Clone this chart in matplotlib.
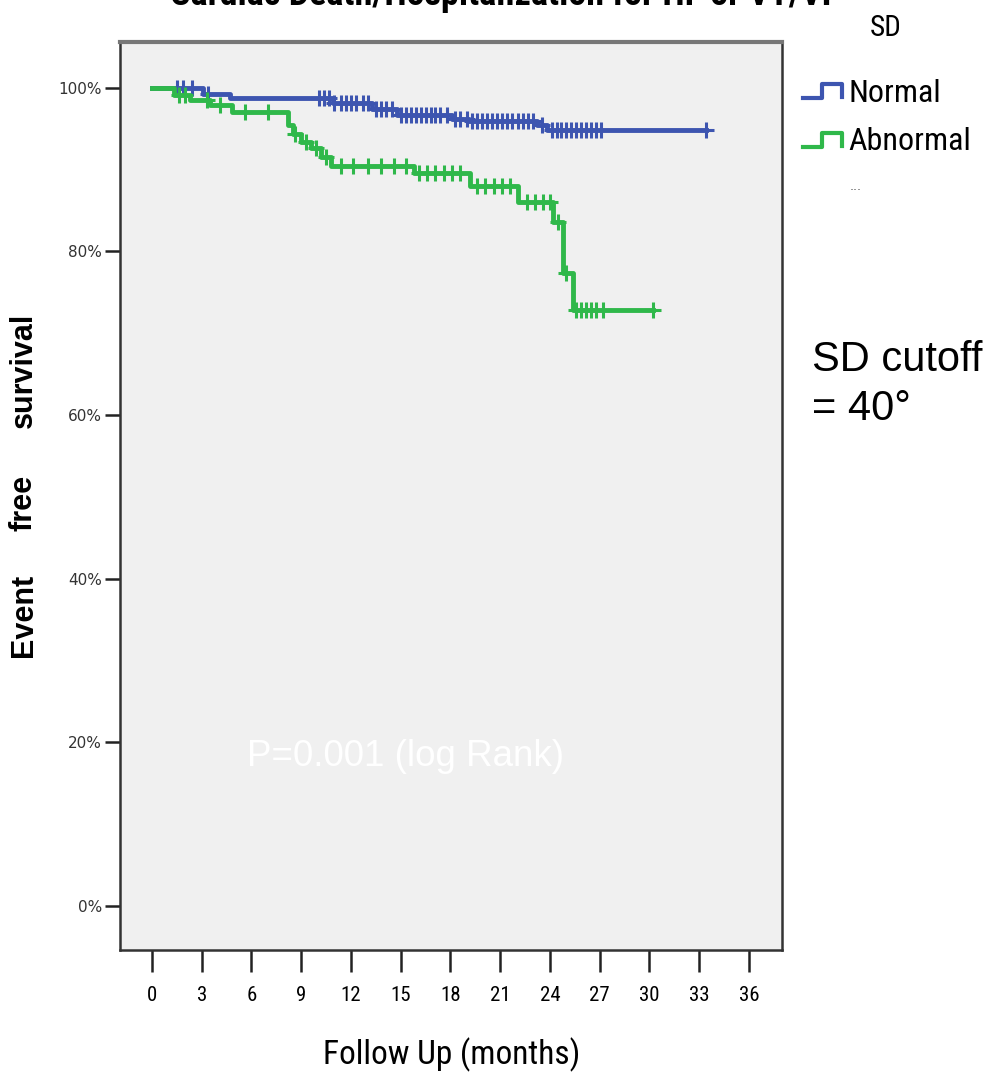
import numpy as np
import matplotlib
matplotlib.use("Agg")
import matplotlib.pyplot as plt
from matplotlib.lines import Line2D

# Kaplan-Meier steps (months, % event free)
normal_times = [0, 3.1, 4.7, 10.9, 13.3, 14.8, 18.1, 19.1, 23.2, 23.8, 33.4]
normal_surv = [100, 99.3, 98.8, 98.2, 97.4, 96.7, 96.2, 95.9, 95.5, 94.9, 94.9]
normal_censor = [1.5, 1.9, 2.4, 3.4, 10.1, 10.4, 10.7, 11.0, 11.4, 11.7, 12.0,
                 12.3, 12.7, 13.0, 13.5, 13.8, 14.1, 14.5, 15.0, 15.3, 15.6,
                 15.9, 16.2, 16.5, 16.8, 17.1, 17.4, 17.8, 18.3, 18.6, 19.0,
                 19.3, 19.6, 19.9, 20.2, 20.5, 20.8, 21.1, 21.4, 21.7, 22.1,
                 22.4, 22.7, 23.0, 23.5, 24.1, 24.4, 24.7, 25.0, 25.3, 25.6,
                 25.9, 26.2, 26.5, 26.8, 27.1, 33.4]

abnormal_times = [0, 1.3, 2.3, 3.5, 4.8, 8.2, 8.5, 9.0, 9.6, 10.2, 10.8,
                  15.8, 19.2, 22.1, 24.2, 24.8, 25.4, 30.2]
abnormal_surv = [100, 99.1, 98.5, 97.9, 97.1, 95.5, 94.3, 93.4, 92.6, 91.6,
                 90.4, 89.6, 88.0, 86.1, 83.6, 77.3, 72.8, 72.8]
abnormal_censor = [1.6, 2.0, 3.3, 4.1, 5.6, 7.0, 8.6, 9.3, 9.9, 10.5, 11.4,
                   12.1, 13.0, 13.8, 14.6, 15.3, 16.1, 16.6, 17.1, 17.6, 18.1,
                   18.6, 19.6, 20.1, 20.6, 21.1, 21.6, 22.6, 23.1, 23.6, 24.0,
                   24.5, 25.0, 25.6, 25.9, 26.2, 26.5, 26.8, 27.2, 30.2]

x_ticks = [0, 3, 6, 9, 12, 15, 18, 21, 24, 27, 30, 33, 36]
y_ticks = [0, 20, 40, 60, 80, 100]

blue = '#3d55b0'
green = '#2fb84a'
narrow = ['Liberation Sans Narrow', 'DejaVu Sans Condensed', 'Roboto Condensed',
          'Open Sans Condensed', 'Liberation Sans']
arial = ['Liberation Sans', 'DejaVu Sans']

W, H = 988, 1078
fig = plt.figure(figsize=(W / 100, H / 100), dpi=100)
ax = fig.add_axes([120 / W, 1 - 950 / H, 662 / W, 908 / H])
ax.set_facecolor('#f0f0f0')


def surv_at(times, surv, t):
    idx = np.searchsorted(times, t, side='right') - 1
    return np.asarray(surv)[idx]


for times, surv, cens, col in [(normal_times, normal_surv, normal_censor, blue),
                               (abnormal_times, abnormal_surv, abnormal_censor, green)]:
    ax.step(times, surv, where='post', color=col, lw=3.5, zorder=3)
    ax.plot(cens, surv_at(times, surv, cens), '+', color=col, ms=12, mew=2.2,
            zorder=3)

ax.set_xlim(-1.93, 38.0)
ax.set_ylim(-5.4, 105.6)
ax.set_xticks(x_ticks)
ax.set_xticklabels([str(v) for v in x_ticks], family=narrow, fontsize=15)
ax.set_yticks(y_ticks)
ax.set_yticklabels(['%d%%' % v for v in y_ticks], family=['DejaVu Sans'],
                   fontsize=11, color='#333333')
ax.tick_params(axis='x', length=16, width=1.8, pad=10, color='#222222')
ax.tick_params(axis='y', length=11, width=1.8, pad=2, color='#222222')
for s in ['left', 'bottom', 'right']:
    ax.spines[s].set_color('#333333')
    ax.spines[s].set_linewidth(1.8)
ax.spines['top'].set_color('#777777')
ax.spines['top'].set_linewidth(3)

ax.text((405 - 120) / 662, (950 - 757) / 908, 'P=0.001 (log Rank)',
        transform=ax.transAxes, ha='center', va='center', color='white',
        fontsize=26.5, family=arial)

# axis labels
fig.text(452 / W, 1 - 1055 / H, 'Follow Up (months)', ha='center', va='center',
         fontsize=24, family=narrow)
for word, yc in [('Event', 615), ('free', 503), ('survival', 370)]:
    fig.text(24 / W, 1 - yc / H, word, rotation=90, ha='center', va='center',
             fontsize=22, weight='bold', family=arial)

# title, mostly cut off at the top edge as in the source image
fig.text(504 / W, 1 - 5 / H, 'Cardiac Death/Hospitalization for HF or VT/VF',
         ha='center', va='baseline', fontsize=26, weight='bold', family=narrow)

# legend drawn by hand
fig.text(886 / W, 1 - 28 / H, 'SD', ha='center', va='center', fontsize=21,
         family=narrow)
for lab, yc, col in [('Normal', 93, blue), ('Abnormal', 142, green)]:
    px = [803, 822, 822, 842, 842]
    py = [yc + 5, yc + 5, yc - 9, yc - 9, yc + 4]
    fig.add_artist(Line2D([p / W for p in px], [1 - p / H for p in py],
                          transform=fig.transFigure, color=col, lw=3))
    fig.text(848 / W, 1 - yc / H, lab, ha='left', va='center', fontsize=23,
             family=narrow)
fig.text(856 / W, 1 - 186 / H, '...', ha='center', va='center', fontsize=9,
         color='#555555')

fig.text(812 / W, 1 - 340 / H, 'SD cutoff\n= 40°', ha='left', va='top',
         fontsize=30, family=arial, linespacing=1.3)

fig.savefig('out.png', dpi=100)
